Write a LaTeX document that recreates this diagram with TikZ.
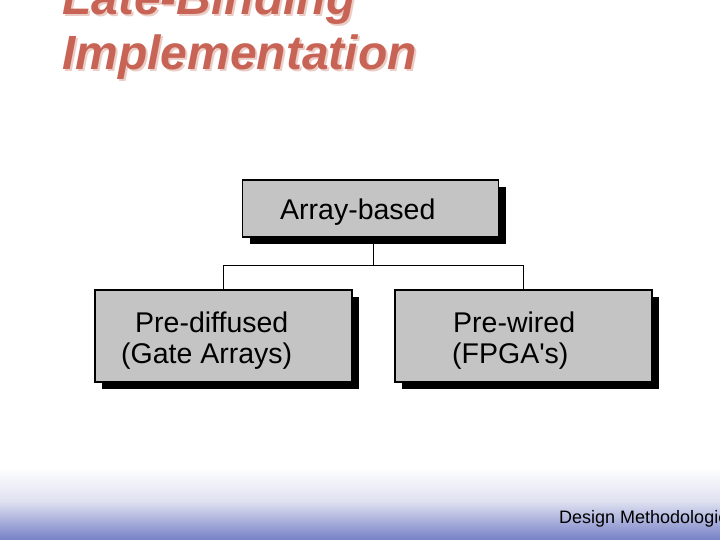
\documentclass[tikz,border=0pt]{standalone}
\usepackage{fontspec}
\setmainfont{Liberation Sans}
\usetikzlibrary{shadows}
\definecolor{titlered}{RGB}{200,100,85}
\definecolor{titleshadow}{RGB}{236,205,198}
\definecolor{boxgray}{RGB}{196,196,196}
\definecolor{footblue}{RGB}{118,128,198}
\definecolor{footmid}{RGB}{222,224,240}
\tikzset{
  titletext/.style={anchor=base west, inner sep=0pt, text=titlered, font=\fontsize{48}{55}\bfseries\itshape\selectfont},
  titleshad/.style={anchor=base west, inner sep=0pt, text=titleshadow, font=\fontsize{48}{55}\bfseries\itshape\selectfont},
  boxnode/.style={draw=black, line width=1.5pt, fill=boxgray, inner sep=0pt,
    general shadow={fill=black, shadow xshift=7pt, shadow yshift=-7pt}},
  boxtext/.style={anchor=base west, inner sep=0pt, font=\fontsize{28.5}{32}\selectfont},
  link/.style={draw=black, line width=1.8pt},
}
\begin{document}
\begin{tikzpicture}[x=1pt,y=-1pt]
\useasboundingbox (0,0) rectangle (720,540);
\clip (0,0) rectangle (720,540);
\fill[white] (0,0) rectangle (720,540);
% footer gradient
\shade[top color=white, bottom color=footmid] (0,468) rectangle (720,502);
\shade[top color=footmid, bottom color=footblue] (0,501.5) rectangle (720,540);
% title
\node[titleshad] (t1s) at (64,17) {Late-Binding};
\node[titleshad] (t2s) at (64,72) {Implementation};
\node[titletext] (t1) at (62,15) {Late-Binding};
\node[titletext] (t2) at (62,70) {Implementation};
% boxes
\node[boxnode, minimum width=256pt, minimum height=57pt] (top) at (370.5,208.5) {};
\node[boxnode, minimum width=257pt, minimum height=92pt] (left) at (223.5,336) {};
\node[boxnode, minimum width=257pt, minimum height=92pt] (right) at (523.5,336) {};
% box texts
\node[boxtext] (ttop) at (280,220) {Array-based};
\node[boxtext] (tl1) at (135,332) {Pre-diffused};
\node[boxtext] (tl2) at (121,363) {(Gate Arrays)};
\node[boxtext] (tr1) at (453,332) {Pre-wired};
\node[boxtext] (tr2) at (452,363) {(FPGA\textquotesingle s)};
% connectors
\coordinate (j) at (373.5,265.5);
\draw[link] (top.south -| j) -- (j);
\draw[link] (left.north) |- (j) -| (right.north);
% footer text
\node[anchor=base west, inner sep=0pt, font=\fontsize{18}{20}\selectfont] (foot) at (559,523) {Design Methodologies};
\end{tikzpicture}
\end{document}
